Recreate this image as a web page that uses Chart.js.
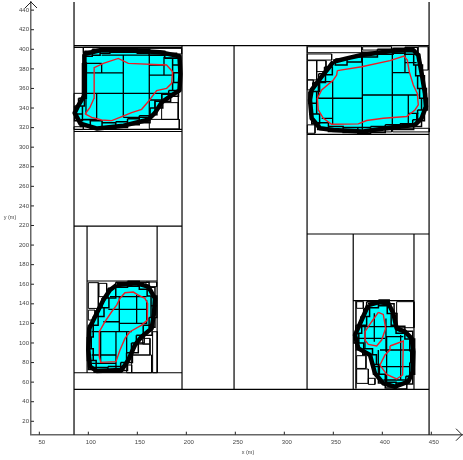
<!DOCTYPE html>
<html>
<head>
<meta charset="utf-8">
<style>
  html, body { margin: 0; padding: 0; background: #fff; }
  canvas { display: block; }
</style>
<script src="https://cdn.jsdelivr.net/npm/chart.js@4"></script>
</head>
<body>
<canvas id="myChart" width="463" height="460"></canvas>
<script>
const xTicks = [50, 100, 150, 200, 250, 300, 350, 400, 450]
const yTicks = [20, 40, 60, 80, 100, 120, 140, 160, 180, 200, 220, 240, 260, 280, 300, 320, 340, 360, 380, 400, 420, 440]

// big partition lines, [x0, y0, x1, y1]
const frameLines = [
  [85.4, 6, 85.4, 449], [447.7, 6, 447.7, 449],
  [85.4, 403.8, 447.7, 403.8], [85.4, 52.6, 447.7, 52.6],
  [195.6, 403.8, 195.6, 52.6], [248.7, 403.8, 248.7, 52.6], [323.2, 403.8, 323.2, 52.6],
  [85.4, 402, 195.6, 402], [85.4, 316, 195.6, 316], [85.4, 318.2, 195.6, 318.2], [85.4, 219.4, 195.6, 219.4],
  [98.7, 219.4, 98.7, 69.6], [170.2, 219.4, 170.2, 69.6], [98.7, 163.3, 170.2, 163.3], [85.4, 69.6, 195.6, 69.6],
  [323.2, 313, 447.7, 313], [323.2, 211.3, 447.7, 211.3],
  [370.3, 211.3, 370.3, 52.6], [432.3, 211.3, 432.3, 52.6], [370.3, 143.2, 432.3, 143.2]
]

// blob outlines
const blobA = [[96,395],[112,399],[139,399],[173,397],[193,393],[194,375],[193,358],[185,353],[175,346],[168,335],[161,328],[136,322],[109,319],[92,324],[86,335],[90,343],[96,353],[96,375]]
const blobB = [[350,387.3],[363.6,390.7],[378.9,394.1],[411.2,398.6],[431.6,399.2],[436.7,394.1],[440.1,375.4],[443.5,355],[444.5,341.4],[440.1,329.5],[433.3,322.7],[411.2,320.4],[378.9,315.9],[350,317.6],[336.4,319.3],[327.9,329.5],[326.2,348.2],[327.9,358.5],[338.1,372.1],[344.9,380.6]]
const blobC = [[128.9,159.2],[149.3,160.9],[161.2,157.5],[168,145.6],[167,130.2],[164.6,114.9],[154.4,106.4],[147.6,97.9],[140.8,82.6],[134,72.4],[108.5,71.4],[101.7,75.8],[100,92.8],[101,114.9],[110.2,133.6],[115.3,143.9],[122.1,154.1]]
const blobD = [[385.7,138.8],[395.9,141.5],[406.1,140.5],[411.2,130.3],[414.6,114.9],[423.1,111.5],[429.9,104.7],[431.6,91.1],[430.9,70.7],[426.5,60.5],[412.9,55.3],[401,58.7],[392.5,69],[387.4,87.7],[375.5,94.5],[372.1,108.1],[378.9,123.5]]

// red contours
const redA = [[96.6,333.9],[101.7,340.7],[105.8,349.9],[105.8,375.4],[106.1,381.2],[115.3,385.6],[130.6,390.7],[140.8,385.6],[179.9,383.9],[186,377.1],[185,365.2],[179.9,360.1],[169.7,357.8],[161.2,346.6],[154.4,338.7],[144.2,335.3],[132.3,330.5],[123.8,327.1],[113.6,327.8],[103.4,330.5],[96.6,333.9]]
const redB = [[354.1,378.2],[378.9,382.2],[407.8,388.4],[422.1,393.1],[425.5,389],[427.5,377.2],[431.6,363.5],[435.7,355],[436.7,343.2],[433.3,338],[424.8,331.3],[401,329.5],[384,327.2],[375.5,323.8],[348.3,323.4],[339.8,329.5],[334.7,338],[333.7,349.9],[338.1,358.5],[350,368.7],[353.4,373.7],[354.1,378.2]]
const redC = [[132.3,145.6],[137.4,151.3],[145.9,152],[151,148.9],[157.8,145.6],[160.5,140.4],[160.2,123.4],[154.4,118.3],[142.5,111.5],[137.4,104.7],[132.3,92.8],[128.2,80.9],[112.6,80.2],[111.2,86],[111.2,111.5],[117,121.7],[123.8,131.9],[128.9,138.7],[132.3,145.6]]
const redD1 = [[395.9,131.3],[401,129.2],[403.4,114.9],[399.3,103],[394.2,96.9],[385.7,98.6],[382.3,103],[382.3,111.5],[389.1,121.7],[395.9,131.3]]
const redD2 = [[407.8,96.9],[421.4,102],[420.7,67.3],[414.6,63.2],[404.4,67.9],[397.6,77.5],[402.7,87.7],[407.8,92.8],[407.8,96.9]]

// cell borders inside the blobs, [x0, y0, x1, y1]
const innerLines = [
  [135.7,394,135.7,330.5],[162.2,394,162.2,329.5],[113.6,385.6,113.6,376],[96.6,376,135.7,376],[95.6,355,162.2,355],[162.2,373.7,186.7,373.7],[162.2,383.9,178.2,383.9],[177.2,392.4,177.2,373.7],[108.5,355,108.5,327.8],[97.6,355,97.6,334.5],[135.7,330.5,161.2,330.5],[97.6,385.6,113.6,385.6],[113.6,394,193.5,394],[178.2,390.7,193.5,390.7],[162.2,355,190,355],[174.8,355,174.8,348.2],[162.2,348.2,174.8,348.2],[168,348.2,168,338],[95,328.4,108.5,328.4],
  [349.3,368,349.3,322.8],[379.6,392.4,379.6,315.9],[410.2,399,410.2,321],[334.7,350,379.6,350],[379.6,353.3,428.2,353.3],[410.2,376.1,428.2,376.1],[338.1,329.5,349.3,329.5],[426.5,353.3,426.5,321],[334.7,366.9,334.7,350],[334.7,366.9,349.3,366.9],[423.1,399,423.1,376.1],[423.1,386.3,435,386.3],[426.5,353.3,436.7,353.3],[426.5,334.6,436.7,334.6],[435,334.6,435,326.2],
  [131.6,147.3,131.6,111.5],[149.3,148.9,149.3,120],[120.4,134.3,160.2,134.3],[103.4,111.5,144.2,111.5],[112.6,111.5,112.6,79.8],[128.2,111.5,128.2,72.4],[115.3,121.7,131.6,121.7],[131.6,120,160.2,120],[139.1,111.5,139.1,89.4],[103.4,87.7,128.2,87.7],[103.4,79.2,128.2,79.2],[159.5,143.9,159.5,120],[122.1,147.3,159.5,147.3],
  [377.2,116.6,412.9,116.6],[375.5,104.7,402.7,104.7],[382.3,116.6,382.3,94.5],[391.8,130.3,391.8,101.3],[403.7,125.1,403.7,91.1],[397.6,92.8,429.9,92.8],[404.4,106.4,404.4,57.1],[404.4,106.4,421.4,106.4],[418.7,108.1,418.7,62.2],[392.5,75.8,428.2,75.8],[401,62.2,426.5,62.2],[395.9,92.8,395.9,67.3]
]

// small cells packed along the blob edges, [x0, y0, x1, y1]
const edgeCells = [
  [96,398,104,393],[104,400,112,394],[112,401,122,396],[122,401,136,397],[136,401,150,397],[150,400,162,396],[162,398,178,394],[178,396,190,391],[186,391,194,384],[186,384,193,376],[187,376,194,366],[186,366,194,358],
  [182,358,192,352],[175,354,184,347],[168,347,176,340],[163,340,170,333],[152,332,163,325],[140,329,152,323],[128,326,140,320],[114,325,128,319],[102,327,114,319],[92,328,102,321],[86,334,94,327],[86,342,94,334],[90,350,96,342],[94,360,98,350],[94,372,98,360],[94,386,98,372],
  [352,390,364,384],[364,392,379,387],[379,397,395,392],[395,400,411,395],[411,401,423,396],[423,402,436,395],[432,395,438,384],[434,384,441,373],[436,373,443,360],[438,360,445,350],[440,350,446,338],[436,338,443,327],[431,328,440,321],[418,324,432,318],[403,323,418,318],[388,321,403,315],[375,320,388,314],[360,320,375,315],[345,321,360,316],[334,325,345,318],[328,334,336,324],[326,345,333,334],[325,357,333,345],[329,366,336,357],[335,375,342,366],[341,382,349,374],
  [128,162,140,157],[140,163,152,158],[152,162,162,155],[160,157,168,148],[164,148,170,138],[164,138,170,126],[162,126,168,116],[156,118,165,108],[149,108,157,100],[144,100,151,90],[139,90,145,80],[133,80,140,72],[120,76,134,70],[106,75,120,70],[100,82,108,73],[99,94,105,82],[99,106,103,94],[100,118,105,106],[105,127,110,118],[110,136,116,127],[114,146,121,136],[120,156,128,146],
  [384,142,396,136],[396,144,407,138],[405,140,412,130],[409,130,415,118],[414,117,423,110],[423,112,431,104],[428,104,433,92],[429,92,433,80],[428,80,433,68],[424,66,431,58],[414,59,425,53],[403,60,414,54],[396,68,403,59],[391,78,397,68],[389,88,394,78],[380,94,390,88],[373,100,381,93],[371,110,376,100],[373,118,379,110],[378,127,384,118],[381,135,387,127]
]

// empty cells around the blobs, [x0, y0, x1, y1]
const whiteCells = [
  [94.9,402,111.9,396.5],[147.6,400.9,162.2,395.8],[162.9,400.9,195.2,395.2],[174.8,345.5,191.8,328.4],[162.2,328.4,192.8,318.7],[85.4,355,94.9,338],[85.4,320.9,94.9,318],[191.8,355,191.8,328.4],[94.9,402,94.9,355],
  [323.5,402.6,378.9,396.5],[323.5,395.2,348.3,389],[323.5,388.4,333,368.7],[333,388.4,342.5,377.2],[379.9,402.6,409.5,399.2],[436.7,402.6,446.9,378.8],[410.5,319.3,447.9,315.6],[379.9,318.3,409.5,315.6],[323.5,368.7,329.6,358.5],[323.5,322.8,331.3,314.2],
  [100,161.6,110.2,135.3],[110.9,160.9,118.7,147.3],[100,133.6,106.8,123.4],[145.2,98.9,162.9,87.7],[144.2,87.7,164.6,69.6],[165.6,111.5,170.4,69.6],[155.4,104.7,162.9,98.9],[139.1,77.5,144.2,69.6],[158.8,162.2,169.7,157.5],
  [414.6,142.2,432.3,115.6],[373.1,143.2,373.1,113.2],[373.8,142.2,380.6,135.4],[373.1,92.8,373.1,53.4],[373.8,87,383.3,74],[373.8,73.4,385.7,58.7],[385.7,63.9,392.5,57.7]
]

function linePoints(list) {
  const pts = []
  list.forEach((l) => {
    pts.push({x: l[0], y: l[1]}, {x: l[2], y: l[3]}, {x: NaN, y: NaN})
  })
  return pts
}

function rectPoints(list) {
  const pts = []
  list.forEach((r) => {
    pts.push({x: r[0], y: r[1]}, {x: r[2], y: r[1]}, {x: r[2], y: r[3]}, {x: r[0], y: r[3]}, {x: r[0], y: r[1]}, {x: NaN, y: NaN})
  })
  return pts
}

function toPoints(list) {
  return list.map((p) => ({x: p[0], y: p[1]}))
}

function closed(list) {
  return toPoints(list.concat([list[0]]))
}

function lineSet(data, color, width) {
  return {data: data, showLine: true, fill: false, borderColor: color, borderWidth: width, pointRadius: 0, tension: 0}
}

function blobSet(list) {
  return {data: closed(list), showLine: true, fill: 'shape', backgroundColor: '#00ffff', borderColor: '#000', borderWidth: 4.5, pointRadius: 0, tension: 0, borderJoinStyle: 'round'}
}

// chart.js paints the first dataset on top, so the list runs from top to bottom
const datasets = [
  lineSet(toPoints(redA), '#ee1c25', 1.4),
  lineSet(toPoints(redB), '#ee1c25', 1.4),
  lineSet(toPoints(redC), '#ee1c25', 1.4),
  lineSet(toPoints(redD1), '#ee1c25', 1.4),
  lineSet(toPoints(redD2), '#ee1c25', 1.4),
  lineSet(linePoints(innerLines), '#000', 1.3),
  lineSet(rectPoints(edgeCells), '#000', 1.5),
  blobSet(blobA), blobSet(blobB), blobSet(blobC), blobSet(blobD),
  lineSet(rectPoints(whiteCells), '#000', 1),
  lineSet(linePoints(frameLines), '#000', 1.2)
]

// ticks point inwards and axes end in open arrows
const axisExtras = {
  id: 'axisExtras',
  afterDraw(chart) {
    const ctx = chart.ctx
    const sx = chart.scales.x
    const sy = chart.scales.y
    ctx.save()
    ctx.strokeStyle = '#222'
    ctx.lineWidth = 1
    sx.ticks.forEach((t) => {
      const px = sx.getPixelForValue(t.value)
      ctx.beginPath(); ctx.moveTo(px, sx.top); ctx.lineTo(px, sx.top - 3); ctx.stroke()
    })
    sy.ticks.forEach((t) => {
      const py = sy.getPixelForValue(t.value)
      ctx.beginPath(); ctx.moveTo(sy.right, py); ctx.lineTo(sy.right + 3, py); ctx.stroke()
    })
    ctx.beginPath()
    ctx.moveTo(sy.right - 6, sy.top + 6); ctx.lineTo(sy.right, sy.top); ctx.lineTo(sy.right + 6, sy.top + 6)
    ctx.moveTo(sx.right - 6, sx.top - 6); ctx.lineTo(sx.right, sx.top); ctx.lineTo(sx.right - 6, sx.top + 6)
    ctx.stroke()
    ctx.fillStyle = '#444'
    ctx.font = '5.5px "Liberation Sans"'
    ctx.textAlign = 'center'
    ctx.textBaseline = 'middle'
    ctx.fillText('y (m)', 10, 217)
    ctx.fillText('x (m)', 248, 452)
    ctx.restore()
  }
}

new Chart(document.getElementById('myChart'), {
  type: 'scatter',
  data: {datasets: datasets},
  plugins: [axisExtras],
  options: {
    responsive: false,
    animation: false,
    layout: {padding: {left: 0, right: 1, top: 2, bottom: 0}},
    plugins: {legend: {display: false}, tooltip: {enabled: false}},
    scales: {
      x: {
        type: 'linear', min: 41.5, max: 481.3,
        afterBuildTicks: (s) => { s.ticks = xTicks.map((v) => ({value: v})) },
        afterFit: (s) => { s.height = 25.3; s.paddingLeft = 0; s.paddingRight = 0 },
        grid: {drawOnChartArea: false, drawTicks: false},
        border: {color: '#666', width: 1.5},
        ticks: {color: '#444', font: {family: 'Liberation Sans', size: 6}, padding: 4, labelOffset: 2.5, autoSkip: false, maxRotation: 0}
      },
      y: {
        type: 'linear', min: 6.3, max: 448.3,
        afterBuildTicks: (s) => { s.ticks = yTicks.map((v) => ({value: v})) },
        afterFit: (s) => { s.width = 31; s.paddingTop = 0; s.paddingBottom = 0 },
        grid: {drawOnChartArea: false, drawTicks: false},
        border: {color: '#666', width: 1.5},
        ticks: {color: '#444', font: {family: 'Liberation Sans', size: 6}, padding: 2, autoSkip: false}
      }
    }
  }
})
</script>
</body>
</html>
